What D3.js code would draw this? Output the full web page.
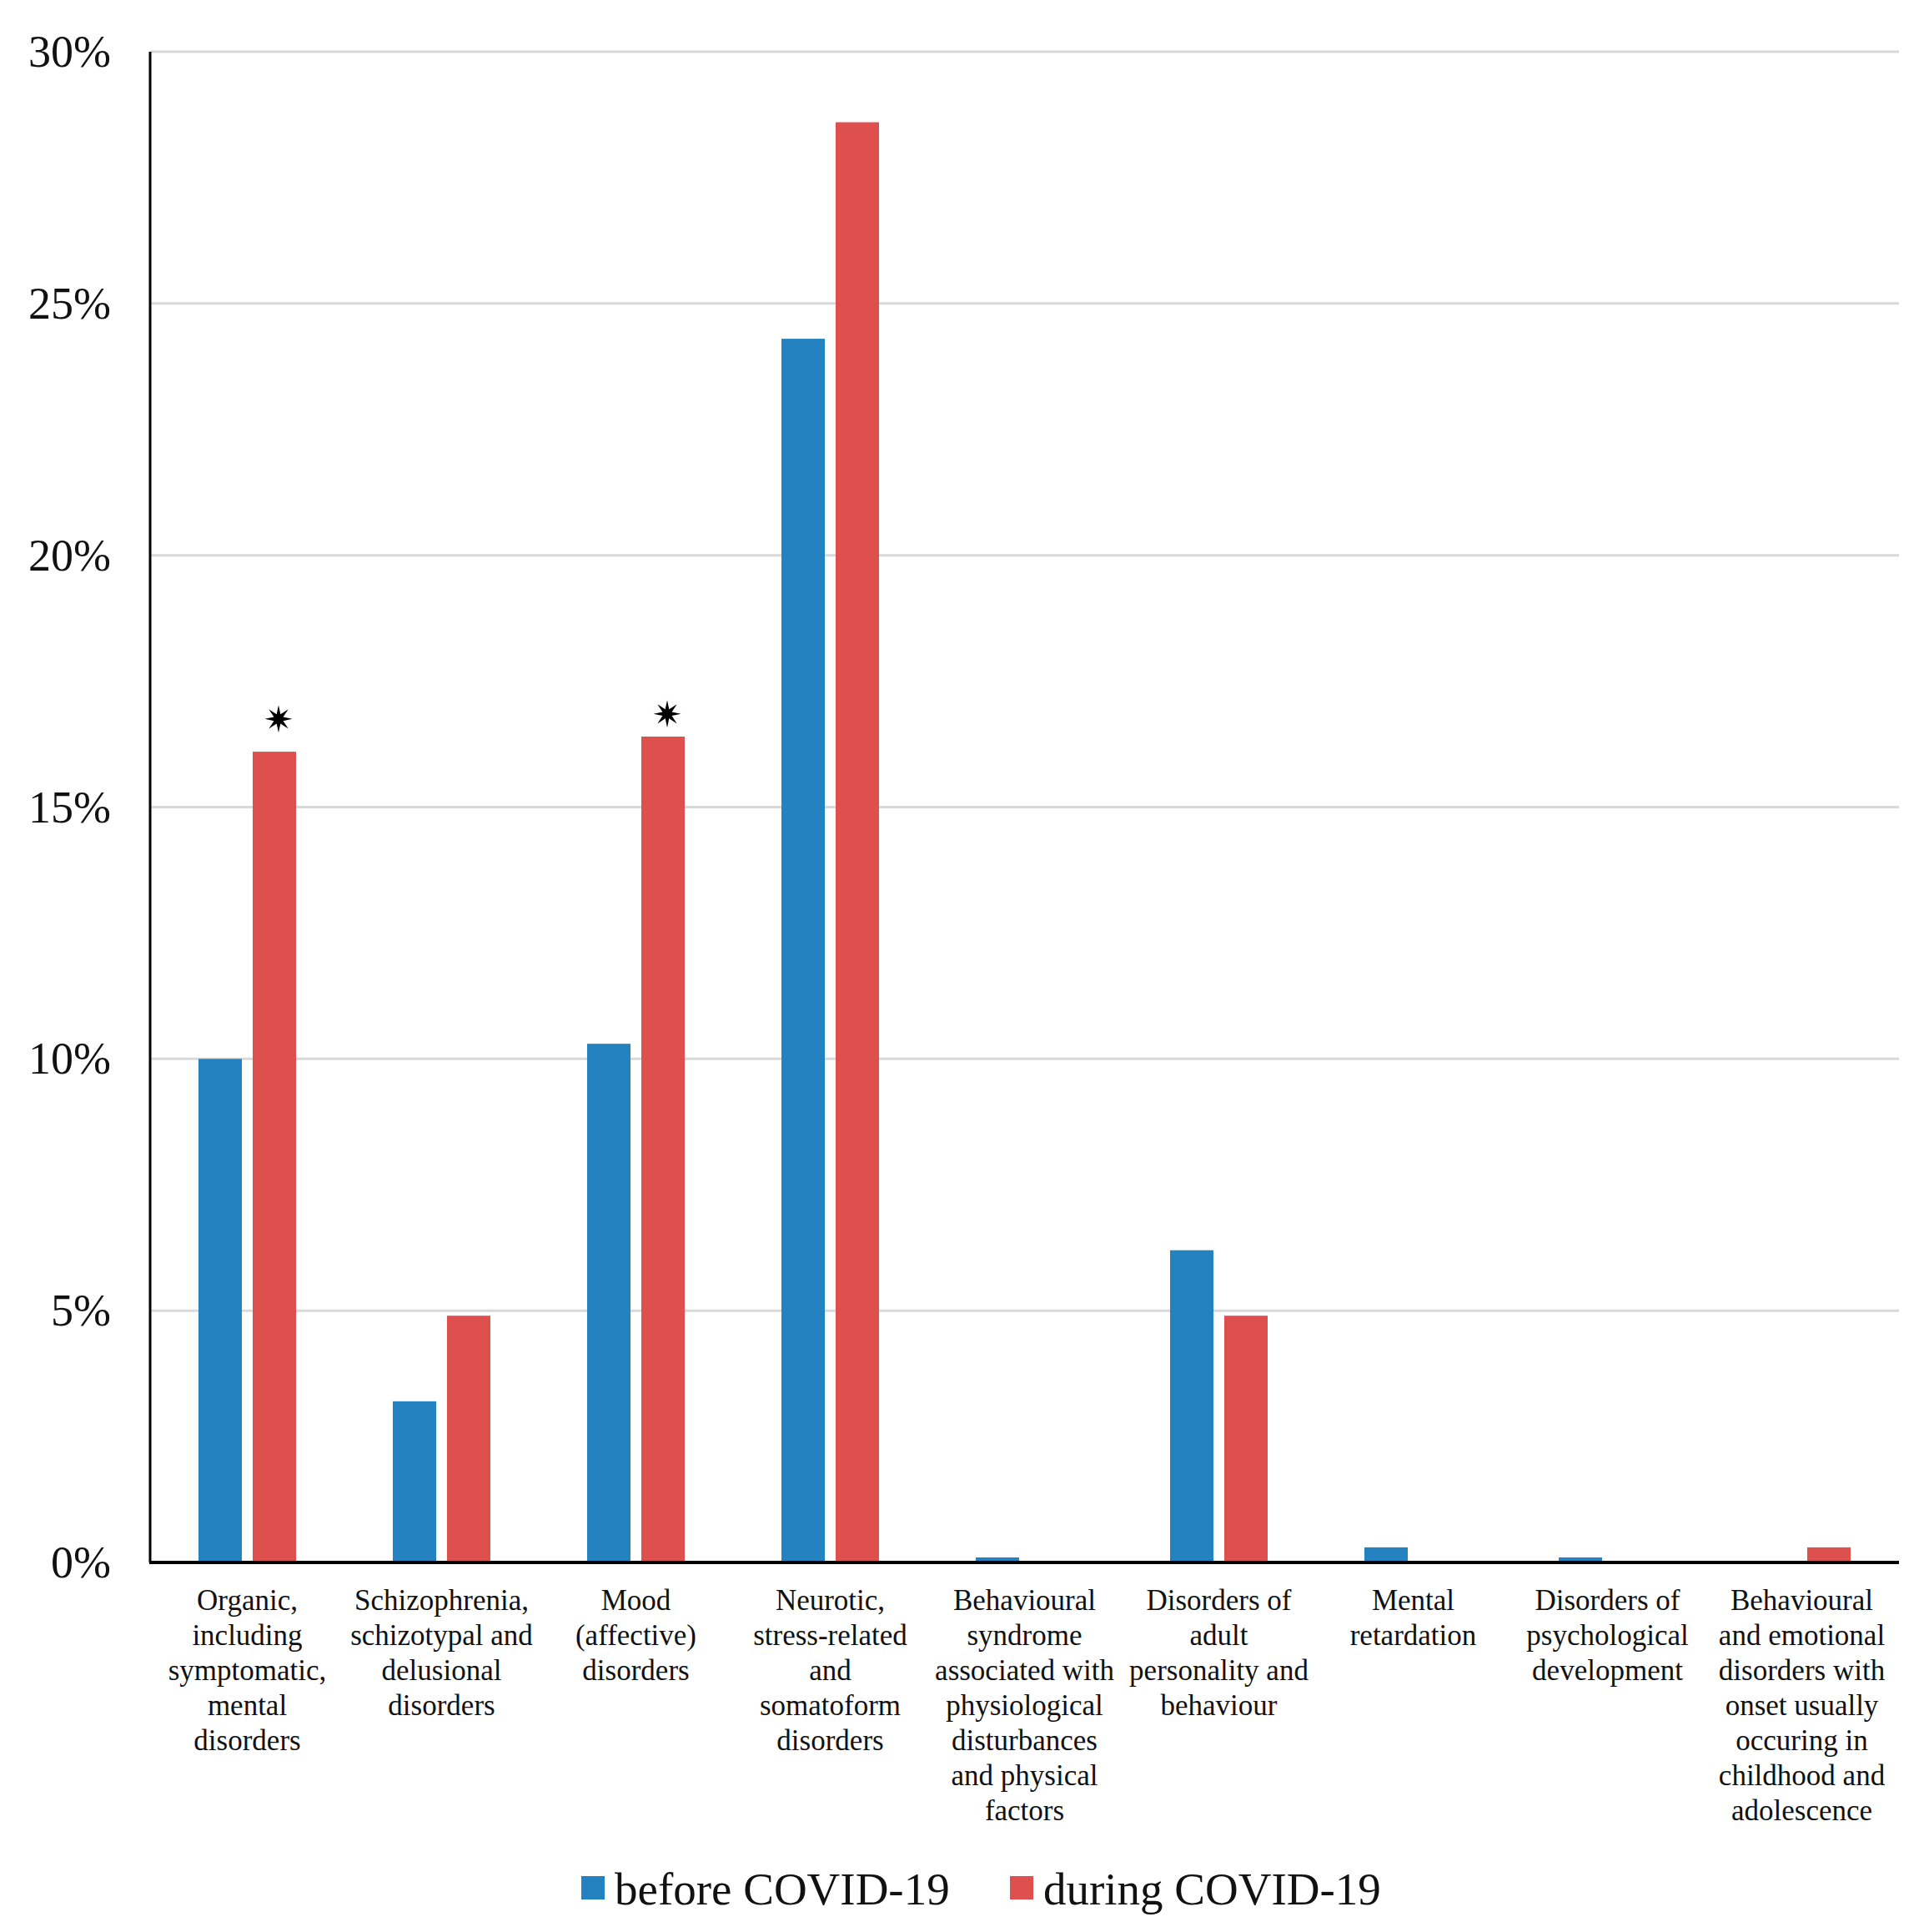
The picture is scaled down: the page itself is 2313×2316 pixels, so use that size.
<!DOCTYPE html>
<html><head><meta charset="utf-8">
<script src="https://cdn.jsdelivr.net/npm/d3@7"></script>
<style>html,body{margin:0;padding:0;background:#fff;}svg{display:block;}</style>
</head><body>
<script>
const categories = [
  ["Organic,", "including", "symptomatic,", "mental", "disorders"],
  ["Schizophrenia,", "schizotypal and", "delusional", "disorders"],
  ["Mood", "(affective)", "disorders"],
  ["Neurotic,", "stress-related", "and", "somatoform", "disorders"],
  ["Behavioural", "syndrome", "associated with", "physiological", "disturbances", "and physical", "factors"],
  ["Disorders of", "adult", "personality and", "behaviour"],
  ["Mental", "retardation"],
  ["Disorders of", "psychological", "development"],
  ["Behavioural", "and emotional", "disorders with", "onset usually", "occuring in", "childhood and", "adolescence"]
];
const seriesNames = ["before COVID-19", "during COVID-19"];
const beforeValues = [10.0, 3.2, 10.3, 24.3, 0.1, 6.2, 0.3, 0.1, 0.0];
const duringValues = [16.1, 4.9, 16.4, 28.6, 0.0, 4.9, 0.0, 0.0, 0.3];
// significance markers (asterisks) above the "during" bar, at these levels (%)
const starCategory = [0, 2];
const starLevel = [16.75, 16.85];
const yTicks = [0, 5, 10, 15, 20, 25, 30];
const colors = ["#2482C0", "#DE504E"];

(function () {
const W = 2313, H = 2316;
const mLeft = 180, mRight = 2277, mTop = 62, mBottom = 1873;
const svg = d3.select("body").append("svg").attr("width", W).attr("height", H);
const font = "'Liberation Serif','Times New Roman',serif";

const idx = d3.range(categories.length);
const x0 = d3.scaleBand().domain(idx).range([mLeft, mRight]).paddingInner(0).paddingOuter(0);
const x1 = d3.scaleBand().domain([0, 1]).range([0, x0.bandwidth()]).paddingInner(0.2).paddingOuter(0.892);
const y = d3.scaleLinear().domain([0, 30]).range([mBottom, mTop]);

// gridlines
svg.append("g").selectAll("line").data(yTicks.filter(t => t > 0)).join("line")
  .attr("x1", mLeft).attr("x2", mRight)
  .attr("y1", d => y(d)).attr("y2", d => y(d))
  .attr("stroke", "#D9D9D9").attr("stroke-width", 3);

// y tick labels
svg.append("g").selectAll("text").data(yTicks).join("text")
  .attr("x", 133).attr("y", d => y(d) + 18)
  .attr("text-anchor", "end")
  .attr("font-family", font).attr("font-size", 54).attr("fill", "#111")
  .text(d => d + "%");

// bars
const rows = idx.map(i => [beforeValues[i], duringValues[i]]);
const groups = svg.append("g").selectAll("g").data(rows).join("g")
  .attr("transform", (d, i) => `translate(${x0(i)},0)`);
groups.selectAll("rect").data(d => d.map((v, s) => ({v, s}))).join("rect")
  .attr("x", d => x1(d.s)).attr("width", x1.bandwidth())
  .attr("y", d => y(d.v)).attr("height", d => y(0) - y(d.v))
  .attr("fill", d => colors[d.s]);

// significance stars
function starPath(cx, cy, rOuter, rInner, n) {
  const pts = [];
  for (let k = 0; k < 2 * n; k++) {
    const a = Math.PI * k / n - Math.PI / 2;
    const r = k % 2 === 0 ? rOuter : rInner;
    pts.push([cx + r * Math.cos(a), cy + r * Math.sin(a)]);
  }
  return "M" + pts.map(p => p.join(",")).join("L") + "Z";
}
svg.append("g").selectAll("path").data(d3.range(starCategory.length)).join("path")
  .attr("d", j => starPath(x0(starCategory[j]) + x1(1) + x1.bandwidth() / 2 + 5, y(starLevel[j]), 16.5, 6, 8))
  .attr("fill", "#000");

// axes lines
svg.append("line").attr("x1", mLeft).attr("x2", mLeft).attr("y1", mTop).attr("y2", mBottom)
  .attr("stroke", "#000").attr("stroke-width", 3);
svg.append("line").attr("x1", mLeft - 1).attr("x2", mRight).attr("y1", mBottom).attr("y2", mBottom)
  .attr("stroke", "#000").attr("stroke-width", 4);

// category labels
const lab = svg.append("g").selectAll("text").data(idx).join("text")
  .attr("text-anchor", "middle")
  .attr("font-family", font).attr("font-size", 35).attr("fill", "#111");
lab.each(function(i) {
  const t = d3.select(this);
  categories[i].forEach((line, k) => {
    t.append("tspan").attr("x", x0(i) + x0.bandwidth() / 2).attr("y", 1930 + k * 42).text(line);
  });
});

// legend
const legX = [697, 1211];
const leg = svg.append("g").selectAll("g").data(seriesNames).join("g");
leg.append("rect").attr("x", (d, i) => legX[i]).attr("y", 2249).attr("width", 28).attr("height", 28)
  .attr("fill", (d, i) => colors[i]);
leg.append("text").attr("x", (d, i) => legX[i] + 40).attr("y", 2283)
  .attr("font-family", font).attr("font-size", 55).attr("fill", "#111")
  .text(d => d);
})();
</script>
</body></html>
